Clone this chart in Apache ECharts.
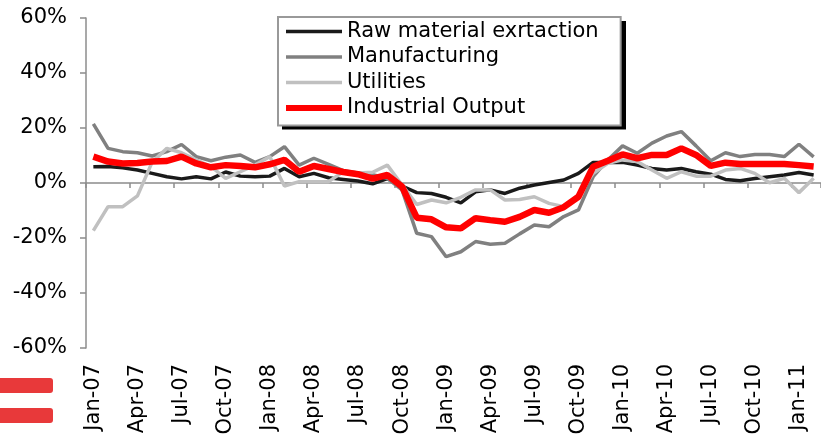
<!DOCTYPE html>
<html>
<head>
<meta charset="utf-8">
<script src="https://cdn.jsdelivr.net/npm/echarts@6/dist/echarts.min.js"></script>
<style>
  html, body { margin: 0; padding: 0; background: #fff; }
  #chart { width: 821px; height: 444px; }
</style>
</head>
<body>
<div id="chart"></div>
<script>
// months, Jan-07 .. Feb-11
var months = [
  "Jan-07", "Feb-07", "Mar-07", "Apr-07", "May-07", "Jun-07", "Jul-07", "Aug-07", "Sep-07", "Oct-07", "Nov-07", "Dec-07",
  "Jan-08", "Feb-08", "Mar-08", "Apr-08", "May-08", "Jun-08", "Jul-08", "Aug-08", "Sep-08", "Oct-08", "Nov-08", "Dec-08",
  "Jan-09", "Feb-09", "Mar-09", "Apr-09", "May-09", "Jun-09", "Jul-09", "Aug-09", "Sep-09", "Oct-09", "Nov-09", "Dec-09",
  "Jan-10", "Feb-10", "Mar-10", "Apr-10", "May-10", "Jun-10", "Jul-10", "Aug-10", "Sep-10", "Oct-10", "Nov-10", "Dec-10",
  "Jan-11", "Feb-11"
];

// y/y change, %
var rawMaterial = [
  5.9, 6, 5.5, 4.7, 3.5, 2.3, 1.5, 2.3, 1.5, 4,
  2.5, 2.3, 2.5, 5.3, 2.3, 3.5, 1.9, 1.3, 0.7, -0.3,
  1.6, -1.1, -3.5, -3.8, -5.2, -7.2, -3.2, -2.5, -3.8, -1.9,
  -0.7, 0.2, 1.1, 3.5, 7.5, 7.5, 7.5, 6.5, 5.3, 4.7,
  5.3, 4.1, 3.2, 1.3, 0.8, 1.6, 2.3, 2.9, 3.8, 2.9
];
var manufacturing = [
  21.5, 12.6, 11.4, 11, 9.8, 11.4, 14, 9.6, 8.1, 9.4,
  10.2, 7.5, 9.6, 13.2, 6.5, 9, 6.8, 4.5, 3.6, 3,
  1.7, -2.5, -18.3, -19.5, -26.8, -25, -21.3, -22.3, -21.9, -18.5,
  -15.3, -15.9, -12.2, -9.8, 2.3, 8.4, 13.5, 10.8, 14.5, 17.1,
  18.7, 13.5, 8.1, 11, 9.6, 10.4, 10.4, 9.6, 14.1, 9.5
];
var utilities = [
  -17.3, -8.6, -8.6, -4.7, 7.6, 12.6, 11, 8.4, 6, 1.7,
  4.1, 6.5, 9.6, -1.1, 0.5, 0.5, 0.5, 4.1, 3.6, 3.9,
  6.5, -0.7, -7.8, -6.2, -7.2, -5.2, -2.5, -2.5, -6.2, -6,
  -5, -7.4, -8.6, -4.4, 3.5, 7.2, 8.4, 7.8, 4.7, 1.7,
  4.1, 2.5, 2.5, 4.7, 5.3, 3.5, 0.1, 1.7, -3.5, 1.7
];
var industrialOutput = [
  9.6, 7.8, 7.1, 7.3, 7.8, 8, 9.6, 7.1, 5.7, 6.5,
  6.2, 5.7, 6.8, 8.4, 4.1, 6.2, 5.1, 4, 3.2, 1.6,
  2.9, -1.3, -12.6, -13.2, -16.1, -16.5, -12.8, -13.5, -14.1, -12.3,
  -9.8, -10.8, -8.8, -5, 5.9, 8.1, 10.4, 9, 10.2, 10.2,
  12.6, 10.2, 6.2, 7.4, 6.9, 6.9, 6.9, 6.9, 6.5, 6
];
var yTicks = { min: -60, max: 60, step: 20 };

var font = "DejaVu Sans";
var axisGray = "#8c8c8c";

// legend swatches: plain bars (thin for the sectors, thick for the total)
var thinBar = "path://M0 0H100V6.5H0Z";
var thickBar = "path://M0 0H100V11H0Z";

var chart = echarts.init(document.getElementById("chart"));

chart.setOption({
  animation: false,
  backgroundColor: "#fff",
  grid: { left: 86, top: 18, bottom: 96, right: -10 },
  legend: {
    orient: "vertical",
    left: 278,
    top: 17,
    z: 5,
    padding: [2, 22, 5, 8],
    itemGap: 0.5,
    itemWidth: 56,
    itemHeight: 14,
    symbolKeepAspect: true,
    backgroundColor: "#fff",
    borderColor: "#999",
    borderWidth: 2,
    borderRadius: 0,
    textStyle: { color: "#000", fontFamily: font, fontSize: 21, lineHeight: 25 },
    data: [
      { name: "Raw material exrtaction", icon: thinBar },
      { name: "Manufacturing", icon: thinBar },
      { name: "Utilities", icon: thinBar },
      { name: "Industrial Output", icon: thickBar }
    ]
  },
  xAxis: [
    {
      type: "category",
      data: months,
      boundaryGap: true,
      axisLine: { onZero: true, lineStyle: { color: axisGray, width: 1.5 } },
      axisTick: { show: true, interval: 2, length: 5, lineStyle: { color: axisGray, width: 1.5 } },
      axisLabel: { show: false },
      splitLine: { show: false }
    },
    {
      type: "category",
      data: months,
      position: "bottom",
      boundaryGap: true,
      axisLine: { show: false, onZero: false },
      axisTick: { show: false },
      axisLabel: {
        interval: 2,
        rotate: 90,
        margin: 16,
        color: "#000",
        fontFamily: font,
        fontSize: 21
      },
      splitLine: { show: false }
    }
  ],
  yAxis: {
    type: "value",
    min: yTicks.min,
    max: yTicks.max,
    interval: yTicks.step,
    axisLine: { show: true, lineStyle: { color: axisGray, width: 1.5 } },
    axisTick: { show: true, length: 6, lineStyle: { color: axisGray, width: 1.5 } },
    axisLabel: {
      formatter: "{value}%",
      margin: 19,
      color: "#000",
      fontFamily: font,
      fontSize: 21
    },
    splitLine: { show: false }
  },
  series: [
    {
      name: "Raw material exrtaction",
      type: "line",
      symbol: "none",
      data: rawMaterial,
      lineStyle: { color: "#1a1a1a", width: 3.5 },
      itemStyle: { color: "#1a1a1a" }
    },
    {
      name: "Manufacturing",
      type: "line",
      symbol: "none",
      data: manufacturing,
      lineStyle: { color: "#808080", width: 3.5 },
      itemStyle: { color: "#808080" }
    },
    {
      name: "Utilities",
      type: "line",
      symbol: "none",
      data: utilities,
      lineStyle: { color: "#c0c0c0", width: 3.5 },
      itemStyle: { color: "#c0c0c0" }
    },
    {
      name: "Industrial Output",
      type: "line",
      symbol: "none",
      data: industrialOutput,
      lineStyle: { color: "#ff0000", width: 6.5 },
      itemStyle: { color: "#ff0000" }
    }
  ],
  graphic: [
    // drop shadow behind the legend box
    { type: "rect", z: 3, left: 282, top: 21, shape: { width: 344, height: 108.5 }, style: { fill: "#000" } },
    // red tabs at the bottom-left edge
    { type: "rect", left: -4, top: 378, shape: { width: 57, height: 15, r: 3 }, style: { fill: "#e8393a" } },
    { type: "rect", left: -4, top: 408, shape: { width: 57, height: 15, r: 3 }, style: { fill: "#e8393a" } }
  ]
});
</script>
</body>
</html>
